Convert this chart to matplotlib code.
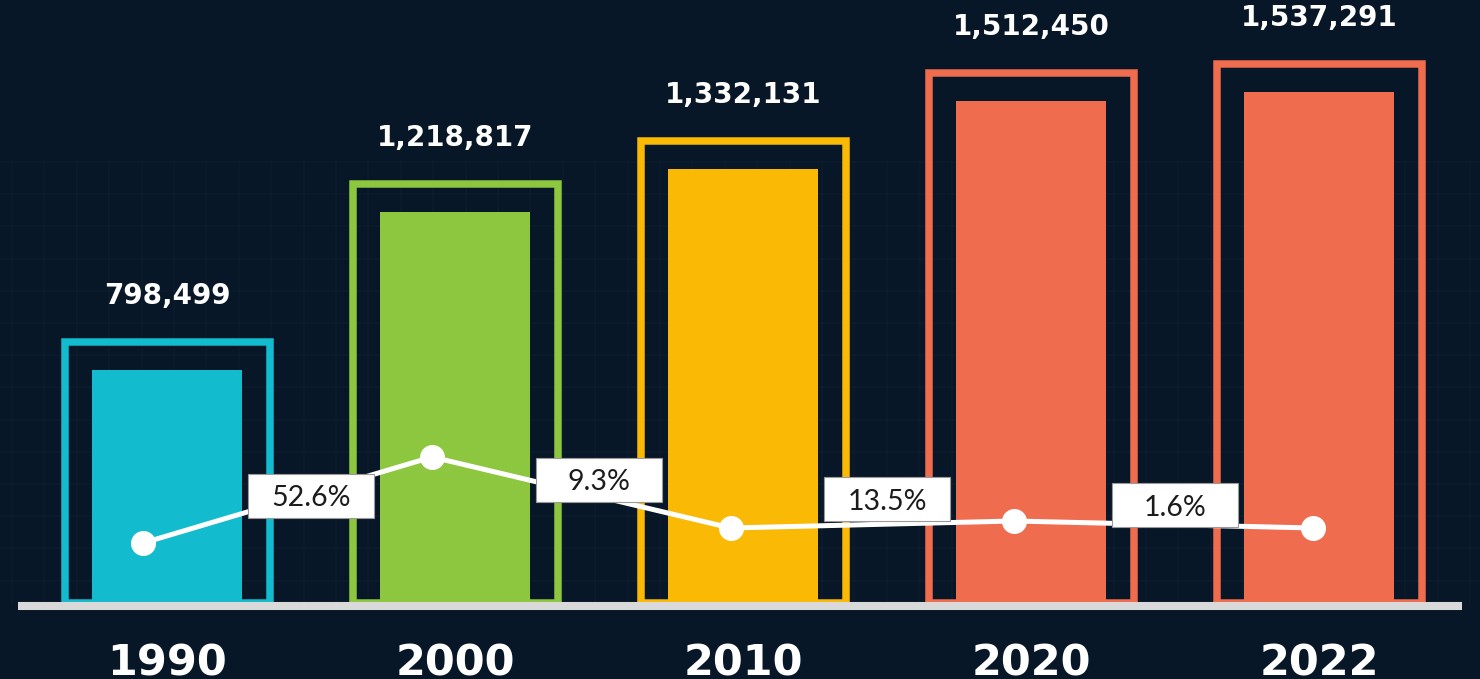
import numpy as np
import matplotlib
matplotlib.use("Agg")
import matplotlib.pyplot as plt
from matplotlib.patches import Rectangle

# ------------------------------------
# Data
# ------------------------------------
years = ["1990", "2000", "2010", "2020", "2022"]
population = [798499, 1218817, 1332131, 1512450, 1537291]
bar_colors = ["#13BBCE", "#8DC63F", "#F9B905", "#EF6C4F", "#EF6C4F"]

growth_labels = ["52.6%", "9.3%", "13.5%", "1.6%"]

# decorative trend line (levels, secondary scale)
dot_x = [-0.083, 0.92, 1.958, 2.94, 3.98]
dot_level = [60, 146, 75, 82, 75]
box_level = [107, 123, 104, 98]

# ------------------------------------
# Style
# ------------------------------------
BG = "#081727"
W, H = 1480, 679
DPI = 100
BASE_PX = 603          # baseline row from top
Y_BASE = 181000        # value at the baseline
Y_TOP = 1780000        # value at the top edge
UPP = (Y_TOP - Y_BASE) / BASE_PX   # data units per pixel
PX_X = 288.0           # pixels per category

fig = plt.figure(figsize=(W / DPI, H / DPI), dpi=DPI, facecolor=BG)

# ------------------------------------
# Background grid
# ------------------------------------
bg = fig.add_axes([0, 0, 1, 1], zorder=-1)
bg.set_xlim(0, W)
bg.set_ylim(H, 0)
bg.set_facecolor(BG)
bg.axis("off")
for gy in np.arange(162, BASE_PX, 32.2):
    bg.plot([0, W], [gy, gy], color="#ffffff", alpha=0.02, lw=1.2)
for gx in np.arange(12, W, 32.4):
    bg.plot([gx, gx], [162, BASE_PX], color="#ffffff", alpha=0.02, lw=1.2)

# ------------------------------------
# Bars
# ------------------------------------
ax = fig.add_axes([0, (H - BASE_PX) / H, 1, BASE_PX / H])
ax.patch.set_alpha(0)
ax.set_xlim(-167 / PX_X, (W - 167) / PX_X)
ax.set_ylim(Y_BASE, Y_TOP)
ax.axis("off")

x = np.arange(len(years))
pop = np.array(population)
frame_pad = 28 * UPP

ax.bar(x, pop - Y_BASE, bottom=Y_BASE, width=150 / PX_X,
       color=bar_colors, zorder=2)
ax.bar(x, pop - Y_BASE + frame_pad, bottom=Y_BASE, width=205 / PX_X,
       fill=False, edgecolor=bar_colors, linewidth=5.4, zorder=2,
       clip_on=False)

ax.axhline(Y_BASE - 3 * UPP, xmin=18 / W, xmax=1462 / W,
           color="#d9d9d9", lw=5.8, zorder=5, clip_on=False,
           solid_capstyle="butt")

for i, v in enumerate(pop):
    ax.text(i, v + frame_pad + 38 * UPP, f"{v:,}",
            ha="center", va="baseline", color="white",
            fontsize=20, fontweight="bold", family="DejaVu Sans",
            clip_on=False)
    ax.text(i, Y_BASE - 73 * UPP, years[i],
            ha="center", va="baseline", color="white",
            fontsize=31, fontweight="bold", family="DejaVu Sans",
            clip_on=False)

# ------------------------------------
# Trend line with growth boxes
# ------------------------------------
ax2 = ax.twinx()
ax2.set_ylim(0, BASE_PX)
ax2.axis("off")

ax2.plot(dot_x, dot_level, color="white", lw=3.6, marker="o",
         markersize=17, zorder=3, solid_capstyle="round")

bw = 126 / PX_X
bh = 44
for i, (lab, lv) in enumerate(zip(growth_labels, box_level)):
    cx = i + 0.5
    ax2.add_patch(Rectangle((cx - bw / 2, lv - bh / 2), bw, bh,
                            facecolor="white", edgecolor="#9a9a9a",
                            lw=0.8, zorder=4))
    ax2.text(cx, lv, lab, ha="center", va="center_baseline",
             color="#1c1c1c", fontsize=20.5, family="Lato",
             fontweight="normal", zorder=5)

fig.savefig("out.png", dpi=DPI, facecolor=BG)
